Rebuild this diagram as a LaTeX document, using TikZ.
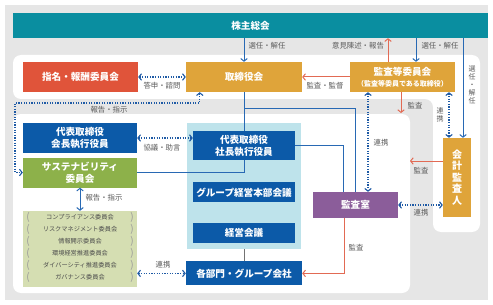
\documentclass[tikz,border=0pt]{standalone}
\usepackage{fontspec}
\setmainfont{Noto Sans CJK JP}
\usetikzlibrary{arrows.meta,positioning,calc}
\definecolor{bggray}{RGB}{230,230,230}
\definecolor{teal1}{RGB}{10,142,160}
\definecolor{redbox}{RGB}{224,84,58}
\definecolor{goldbox}{RGB}{223,164,58}
\definecolor{bluebox}{RGB}{12,90,168}
\definecolor{greenbox}{RGB}{141,177,74}
\definecolor{lgreen}{RGB}{213,222,178}
\definecolor{lblue}{RGB}{190,227,235}
\definecolor{purplebox}{RGB}{139,93,154}
\definecolor{redline}{RGB}{226,106,84}
\definecolor{blueline}{RGB}{40,105,180}
\definecolor{dotblue}{RGB}{30,90,165}
\definecolor{lbl}{RGB}{90,90,90}

\begin{document}
\begin{tikzpicture}[x=1pt,y=-1pt,every node/.style={font=\fontsize{7.4}{8.5}\selectfont,text=lbl,inner sep=0pt},
 b/.style={minimum height=30pt,align=center,text=white,font=\fontsize{9.6}{12}\selectfont\bfseries},
 arr/.style={-{Straight Barb[length=2.6pt,width=6.5pt]},line width=1pt},
 barr/.style={arr,blueline},
 rarr/.style={arr,redline},
 darr/.style={{Straight Barb[length=2.6pt,width=6.5pt]}-{Straight Barb[length=2.6pt,width=6.5pt]},line width=1.1pt,dotblue,dash pattern=on 1.2pt off 1.4pt},
 ln/.style={line width=1pt,blueline}]
\useasboundingbox (0,0) rectangle (493,305);
\fill[bggray] (5,5) rectangle (488,300);
\fill[white,rounded corners=8pt] (13,55) -- (480,55) -- (480,232) -- (433,232) -- (433,99) -- (13,99) -- cycle;
\fill[white,rounded corners=8pt] (13,114) rectangle (410,293);
% boxes
\node[b,fill=teal1,minimum width=475pt,minimum height=25pt] (agm) at (250.5,25.5) {株主総会};
\node[b,fill=redbox,minimum width=115pt] (nom) at (80.5,77) {指名・報酬委員会};
\node[b,fill=goldbox,minimum width=116pt] (board) at (244,77) {取締役会};
\node[b,fill=goldbox,minimum width=105pt] (audc) at (402.5,77) {監査等委員会\\[-1pt]{\fontsize{7}{8}\selectfont （監査等委員である取締役）}};
\node[b,fill=bluebox,minimum width=114pt] (chair) at (80,138) {代表取締役\\会長執行役員};
\node[b,fill=greenbox,minimum width=114pt] (sus) at (80,172.5) {サステナビリティ\\委員会};
\node[fill=lgreen,minimum width=114pt,minimum height=76pt] (cmt) at (80,249) {};
\node[fill=lblue,minimum width=114pt,minimum height=126pt] (cont) at (244,186) {};
\node[b,fill=bluebox,minimum width=102pt,minimum height=29pt] (pres) at (244,145.5) {代表取締役\\社長執行役員};
\node[b,fill=bluebox,minimum width=102pt,minimum height=20pt,below=22pt of pres] (gmhq) {グループ経営本部会議};
\node[b,fill=bluebox,minimum width=102pt,minimum height=20pt,below=20pt of gmhq] (mgmt) {経営会議};
\node[b,fill=bluebox,minimum width=116pt,minimum height=24pt,below=12pt of cont] (div) {各部門・グループ会社};
\node[b,fill=purplebox,minimum width=85pt,minimum height=26pt] (aud) at (355.5,205) {監査室};
\node[b,fill=goldbox,minimum width=28pt,minimum height=79pt,font=\fontsize{10}{11.5}\selectfont\bfseries] (acct) at (457,177.5) {会\\計\\監\\査\\人};
\foreach \t [count=\i] in {コンプライアンス委員会,リスクマネジメント委員会,情報開示委員会,環境経営推進委員会,ダイバーシティ推進委員会,ガバナンス委員会}{
 \node[font=\fontsize{6.2}{7}\selectfont,text=black!70] (c\i) at (80,205+12*\i) {\t};
 \node[font=\fontsize{10}{10}\selectfont,text=black!40] (bl\i) at (28,205+12*\i) {(};
 \node[font=\fontsize{10}{10}\selectfont,text=black!40] (br\i) at (132,205+12*\i) {)};}
% coordinates
\coordinate (a2) at ([xshift=13.5pt]audc.north);
\coordinate (a3) at ([xshift=-14.5pt]audc.north);
\coordinate (a4) at ([xshift=6pt]acct.north);
\coordinate (a7) at ([xshift=-1.5pt]audc.south);
\coordinate (a7e) at (401,113);
\coordinate (a8) at ([xshift=-34.5pt]audc.south);
\coordinate (a9) at ([xshift=46.5pt]audc.south);
\coordinate (a10) at ([yshift=16.5pt]acct.west);
\coordinate (a10e) at (410,161);
\coordinate (a12) at ([xshift=-11.5pt]aud.south);
\coordinate (a16) at ([xshift=14pt]board.south west);
\coordinate (k16) at (15,103);
\coordinate (j1) at ($(board.south)+(0,16)$);
% connectors
\draw[barr](board.north |- agm.south)--(board.north);
\draw[barr](a2 |- agm.south)--(a2);
\draw[rarr](a3)--(a3 |- agm.south);
\draw[barr](a4 |- agm.south)--(a4);
\draw[darr](nom.east)--(board.west);
\draw[rarr](audc.west)--(board.east);
\draw[rarr](a7)--(a7e);
\draw[darr](a8)--(a8 |- aud.north);
\draw[darr](a9)--(a9 |- acct.north);
\draw[rarr](a10)--(a10e);
\draw[darr](aud.east)--(acct.west |- aud.east);
\draw[rarr](a12) |- (div.east);
\draw[ln](board.south)--(pres.north);
\draw[ln](j1) -| (aud.north);
\draw[ln](pres.east) -| ([xshift=-12.5pt]aud.north);
\draw[ln](sus.east) -| (pres.south);
\draw[darr](a16) |- (k16) |- (sus.west);
\draw[darr](chair.east)--(pres.west |- chair.east);
\draw[barr,{Straight Barb[length=2.6pt,width=6.5pt]}-{Straight Barb[length=2.6pt,width=6.5pt]}](sus.south)--(cmt.north);
\draw[darr](cmt.east |- div.west)--(div.west);
\draw[line width=1pt,black!55](cont.south)--(div.north);
% labels
\node (t1) at (267,46) {選任・解任};
\node (t2) at (358,46) {意見陳述・報告};
\node (t3) at (440,46) {選任・解任};
\node[align=center,font=\fontsize{7}{8}\selectfont] (t4) at (472,85) {選\\任\\・\\解\\任};
\node (t5) at (162,86) {答申・諮問};
\node (t6) at (325,86) {監査・監督};
\node (t7) at (415,106) {監査};
\node (t8) at (109,110) {報告・指示};
\node (t9) at (381,143) {連携};
\node[align=center,font=\fontsize{7}{8}\selectfont] (t10) at (440,115) {連\\携};
\node (t11) at (162,148) {協議・助言};
\node (t12) at (421,171) {監査};
\node (t13) at (104,198) {報告・指示};
\node (t14) at (421,213) {連携};
\node (t15) at (356,248) {監査};
\node (t16) at (163,265) {連携};
\end{tikzpicture}
\end{document}
